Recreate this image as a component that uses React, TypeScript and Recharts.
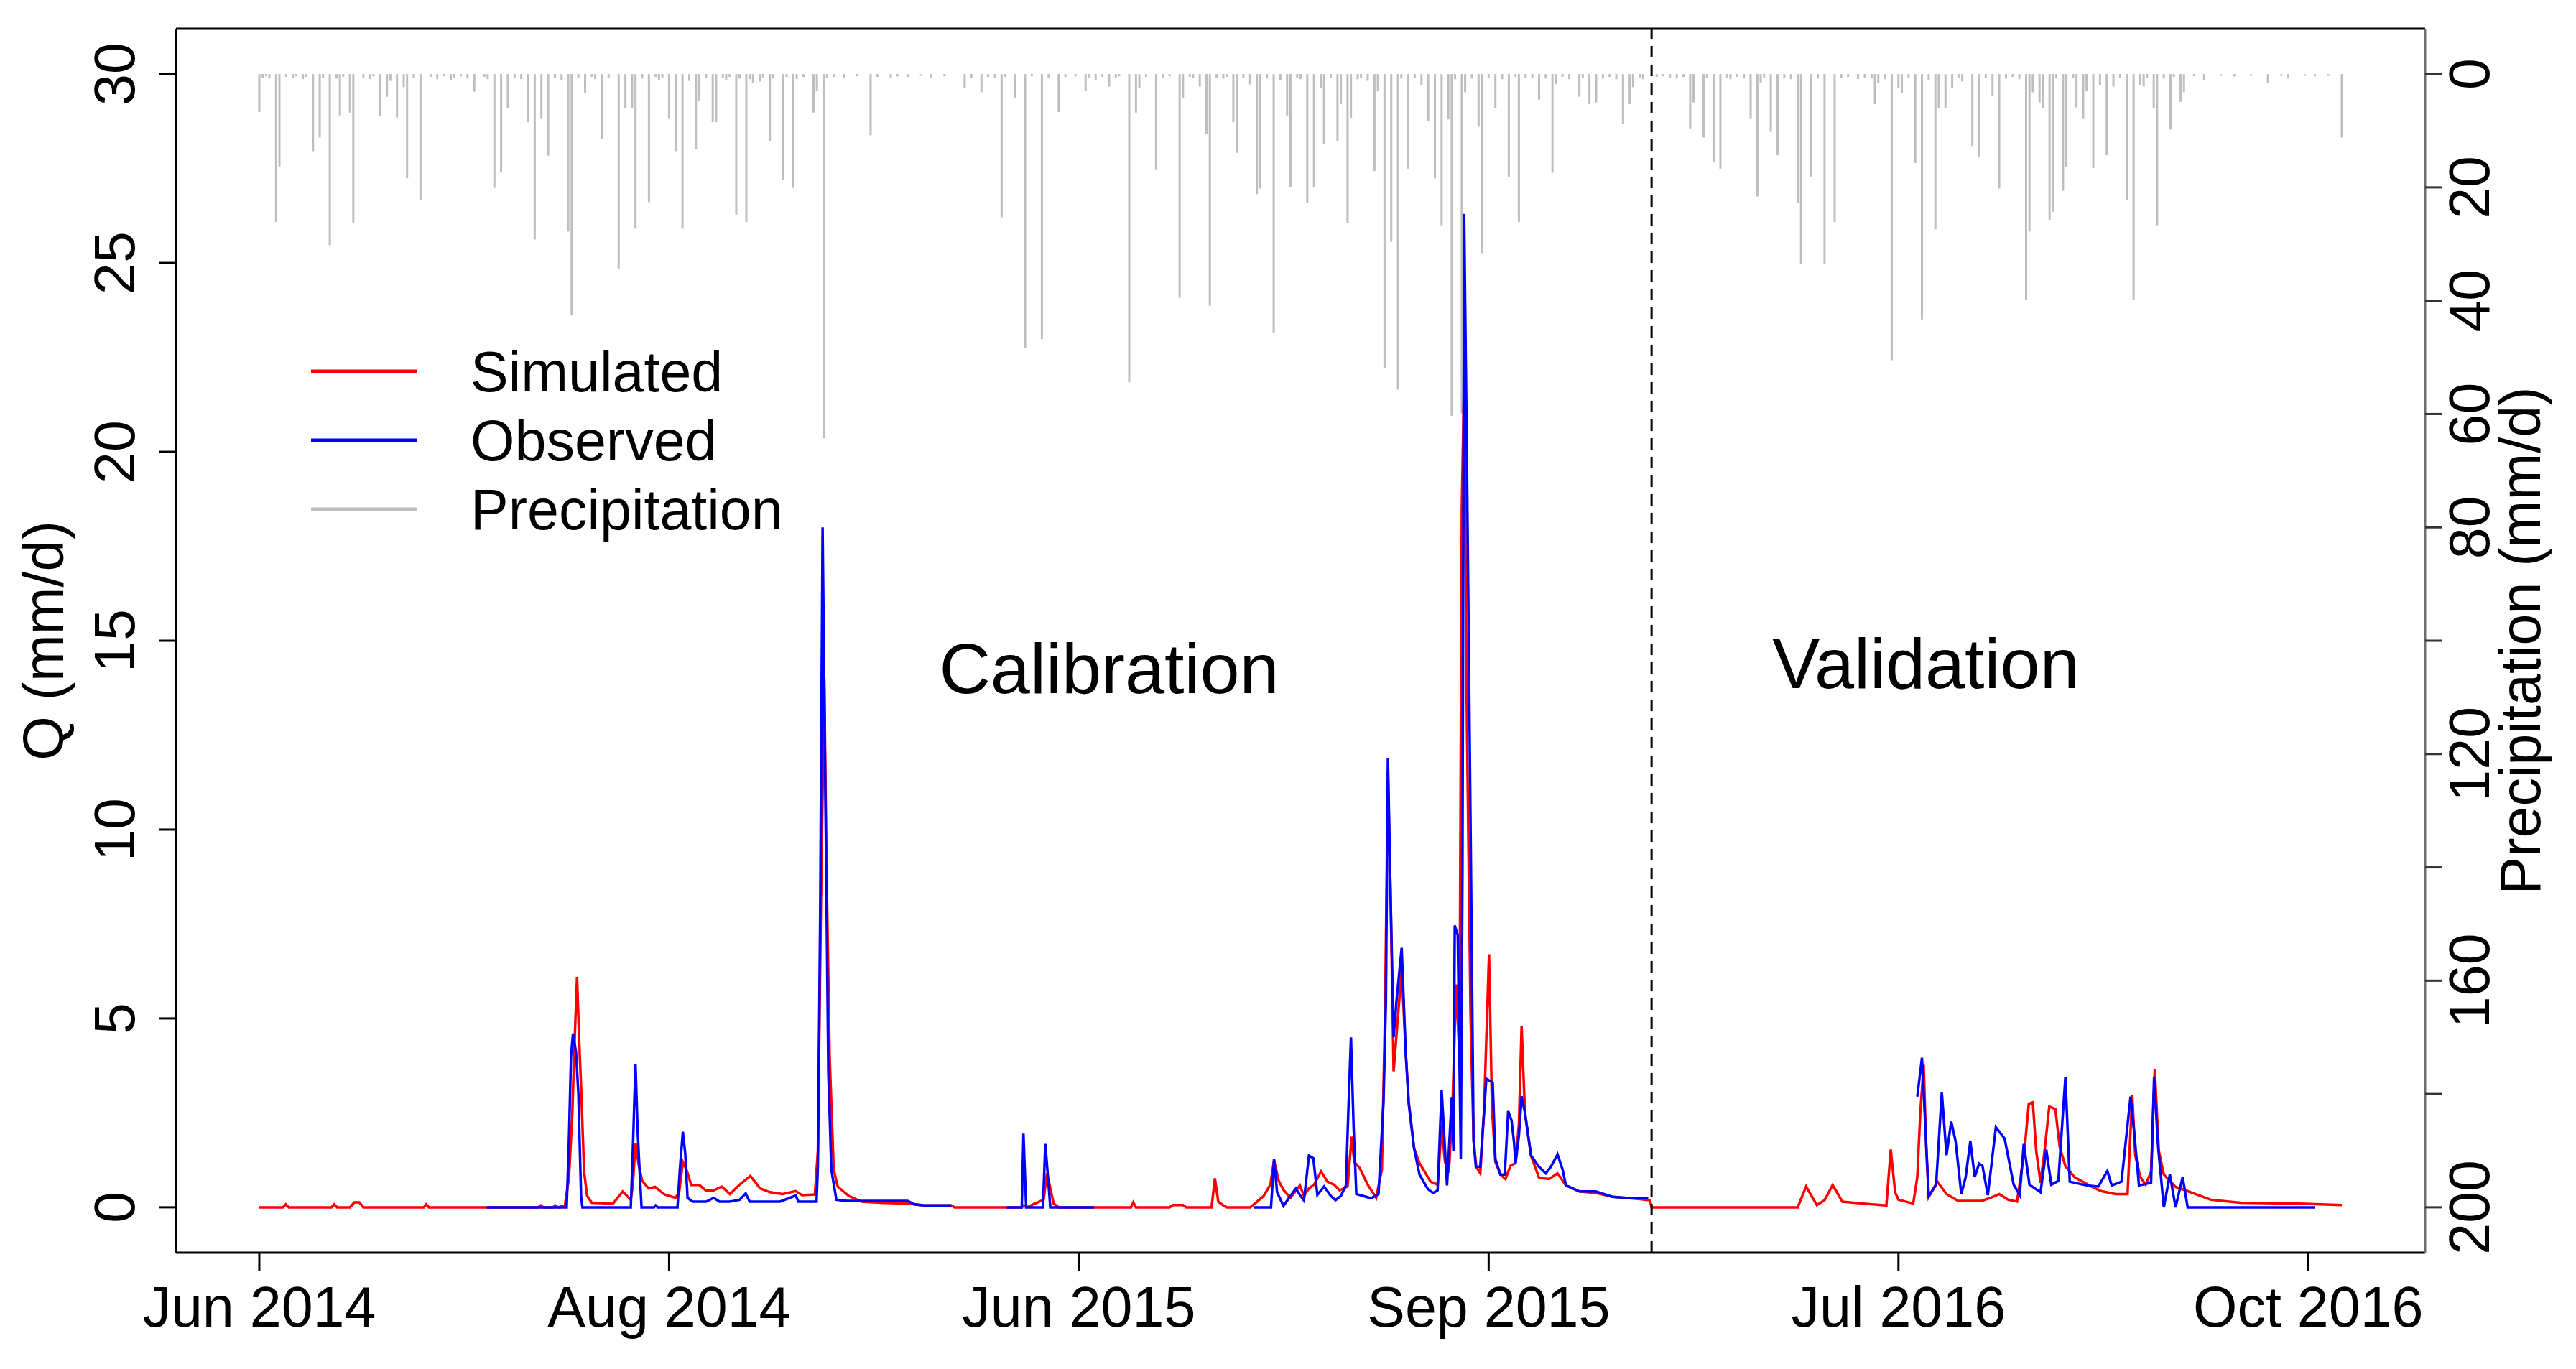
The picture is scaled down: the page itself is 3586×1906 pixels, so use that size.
import React from 'react';
import { ComposedChart, Line, Bar, XAxis, YAxis, ReferenceLine, Legend } from 'recharts';

const W = 3586;
const H = 1906;
const FONT = '"Liberation Sans", Arial, Helvetica, sans-serif';

// x is a running day index over the three concatenated seasons (0..620)
const xTickPos = [0, 122, 244, 366, 488, 610];
const xTickLabels = ['Jun 2014', 'Aug 2014', 'Jun 2015', 'Sep 2015', 'Jul 2016', 'Oct 2016'];
const qTicks = [0, 5, 10, 15, 20, 25, 30];
const pTicks = [0, 20, 40, 60, 80, 100, 120, 140, 160, 180, 200];
const pTickLabelsShown = [0, 20, 40, 60, 80, 120, 160, 200];
const splitDay = 414.5;

// Simulated discharge (mm/d): [day, Q]
const simulated: [number, number][] = [
  [0, 0], [7, 0], [7.9, 0.08], [8.8, 0], [21.5, 0], [22.3, 0.08], [23.2, 0], [27, 0], [28.3, 0.13], [29.8, 0.13], [31, 0],
  [49, 0], [49.7, 0.08], [50.5, 0], [83, 0], [83.8, 0.05], [84.6, 0], [87.5, 0], [88.1, 0.05], [89, 0], [91, 0.05],
  [92.2, 0.8], [93.2, 2.5], [93.7, 4.0], [94.6, 6.1], [95.2, 4.5], [95.8, 3.2], [96.7, 0.94], [97.6, 0.3], [99, 0.12],
  [105.3, 0.1], [108.2, 0.42], [110.6, 0.2], [111.2, 0.6], [112, 1.7], [113, 1.1], [114, 0.7], [115.9, 0.5], [117.8, 0.54],
  [120.6, 0.34], [123.9, 0.25], [125, 0.4], [126.1, 1.2], [127.2, 0.99], [128.6, 0.59], [131, 0.59], [132.9, 0.45],
  [135.3, 0.45], [137.7, 0.55], [140.1, 0.35], [143, 0.6], [146.2, 0.83], [149.1, 0.5], [152, 0.4], [155.8, 0.35],
  [159.7, 0.43], [161.6, 0.32], [165.4, 0.34], [166.3, 1.5], [167.2, 8], [168.2, 14.0], [168.9, 8.8], [169.8, 4.0],
  [171.0, 1.0], [172.2, 0.55], [175.5, 0.3], [179.3, 0.15], [185, 0.12], [193, 0.1], [198, 0.05], [206, 0.05], [207, 0],
  [227, 0], [227.6, 0.05], [228.5, 0], [233.5, 0.2], [234.5, 0.9], [235.5, 0.5], [236.5, 0.1], [238, 0], [259.5, 0],
  [260.2, 0.13], [261, 0], [271, 0], [272, 0.06], [275, 0.06], [276, 0], [283.5, 0], [284.5, 0.77], [285.5, 0.15],
  [287, 0.05], [288, 0], [295, 0], [296.4, 0.1], [299, 0.3], [301, 0.6], [302.1, 1.24], [303.5, 0.7], [305, 0.45],
  [307, 0.25], [309.8, 0.58], [311, 0.3], [312.5, 0.5], [314, 0.6], [316.1, 0.95], [318, 0.68], [320, 0.6], [321.6, 0.45],
  [324, 0.55], [325.2, 1.87], [326, 1.2], [327.6, 1.04], [330, 0.6], [332.5, 0.25], [334.2, 1.0], [335.2, 5.4],
  [336, 11.6], [336.8, 8.25], [337.7, 3.6], [340.1, 6.3], [341.3, 4.1], [342.2, 2.8], [343.8, 1.56], [345.4, 1.17],
  [348.7, 0.68], [350.8, 0.6], [352, 2.15], [353, 1.2], [354.2, 1.0], [355.3, 2.9], [356.3, 5.9], [357.3, 4],
  [358, 18.5], [358.7, 22.0], [359.5, 13], [360.6, 5.1], [361.5, 1.8], [362.3, 1.07], [363.5, 0.9], [364.6, 2.5],
  [365.5, 5], [366.1, 6.7], [367.0, 2.6], [368, 1.2], [369.5, 0.87], [371, 0.75], [372.5, 1.1], [374, 1.17],
  [375, 2.2], [375.8, 4.8], [376.8, 2.5], [378.6, 1.37], [381, 0.78], [384, 0.75], [386.5, 0.9], [389, 0.58],
  [393, 0.42], [397.9, 0.38], [402.8, 0.28], [406.9, 0.25], [414, 0.19], [414.5, 0],
  [458, 0], [460.5, 0.55], [463.7, 0.06], [466, 0.19], [468.4, 0.59], [471.3, 0.15], [477.4, 0.1], [484.4, 0.05],
  [485.7, 1.53], [487, 0.4], [488, 0.2], [492.4, 0.1], [493.6, 0.8], [494.5, 2.5], [495.5, 3.77], [496.3, 1.5],
  [497, 0.27], [499.6, 0.68], [502.3, 0.35], [505.8, 0.17], [512.8, 0.17], [515.4, 0.25], [518, 0.35], [520.7, 0.2],
  [523.3, 0.15], [525.5, 1.5], [526.8, 2.74], [528, 2.78], [529, 1.5], [530.3, 0.65], [531.5, 1.5], [532.9, 2.67],
  [534.7, 2.6], [536, 1.6], [537.7, 1.09], [540.4, 0.8], [544.8, 0.58], [548.3, 0.43], [552.7, 0.35], [556.2, 0.35],
  [557.6, 2.97], [558.5, 1.38], [560, 0.8], [561.6, 0.6], [563.2, 0.94], [564.3, 3.65], [565.5, 1.5], [567, 0.87],
  [570.5, 0.54], [574, 0.43], [581, 0.2], [589.8, 0.12], [607.4, 0.1], [620, 0.06],
];

// Observed discharge (mm/d): [day, Q]; null = no observation
const observed: [number, number | null][] = [
  [67.7, 0], [91.5, 0], [92.1, 1.5], [92.8, 4.0], [93.4, 4.6], [94.3, 4.1], [95, 3.0], [95.8, 0.3], [96.2, 0],
  [110.6, 0], [111.2, 1.5], [112, 3.8], [112.6, 2.1], [113.2, 1.0], [113.8, 0], [117.5, 0], [118, 0.05], [118.6, 0],
  [124.5, 0], [125.2, 1.0], [126.1, 2.0], [126.8, 1.43], [127.5, 0.25], [129, 0.15], [133, 0.15], [135.3, 0.25],
  [137, 0.15], [140, 0.15], [143, 0.2], [144.8, 0.37], [146, 0.15], [150, 0.15], [155, 0.15], [159.7, 0.31],
  [160.5, 0.15], [165.9, 0.15], [166.3, 1.1], [167, 8.0], [167.7, 18.0], [168.4, 12], [169.4, 3.6], [170.3, 1.0],
  [171.8, 0.2], [175, 0.17], [193, 0.17], [195, 0.08], [198, 0.05], [206, 0.05], [206.5, null],
  [222.5, 0], [227, 0], [227.5, 1.95], [228.3, 0], [233.3, 0], [234, 1.68], [234.8, 0.8], [235.5, 0], [248.5, 0],
  [249, null],
  [296, 0], [301.2, 0], [302.1, 1.27], [303, 0.4], [304.9, 0.04], [307, 0.3], [308.6, 0.5], [310, 0.3], [311, 0.18],
  [312.5, 1.37], [313.8, 1.3], [315, 0.33], [317, 0.55], [319, 0.3], [320.4, 0.19], [322, 0.3], [323.5, 0.58],
  [324.2, 2.5], [325, 4.5], [325.8, 2.1], [326.6, 0.35], [331, 0.24], [333.2, 0.35], [334.7, 2.82], [335.4, 5.4],
  [336, 11.9], [336.8, 8.25], [337.7, 4.5], [338.6, 5.5], [340.1, 6.87], [341.3, 4.1], [342.2, 2.74], [343.8, 1.56],
  [345.4, 0.87], [347.9, 0.48], [349.5, 0.38], [350.8, 0.45], [352, 3.1], [353.6, 0.58], [355, 2.9], [355.5, 1.5],
  [355.9, 7.46], [356.8, 7.2], [357.7, 1.27], [358.2, 9.0], [358.7, 26.3], [359.5, 20], [360.6, 10.2], [361.5, 1.76],
  [362.2, 1.07], [363.5, 1.07], [364.6, 2.5], [365.3, 3.4], [367.2, 3.3], [368, 1.27], [369.5, 0.87], [370.8, 0.87],
  [371.8, 2.55], [372.8, 2.3], [373.5, 1.76], [374, 1.17], [375, 1.9], [375.8, 2.94], [376.8, 2.5], [378.6, 1.37],
  [381, 1.07], [383, 0.9], [384.5, 1.07], [386.5, 1.4], [388, 1.0], [389, 0.58], [393, 0.42], [397.9, 0.42],
  [402.8, 0.28], [406.9, 0.25], [413.5, 0.25], [414, null],
  [493.6, 2.93], [495, 3.96], [495.8, 2.5], [497, 0.3], [499.2, 0.6], [500.9, 3.04], [502.3, 1.38], [503.7, 2.27],
  [505, 1.75], [506.7, 0.35], [508, 0.8], [509.4, 1.75], [510.7, 0.8], [512, 1.16], [513, 1.1], [514.6, 0.32],
  [517, 2.12], [519.6, 1.82], [522.3, 0.6], [524.1, 0.32], [525.3, 1.68], [527, 0.6], [530.3, 0.4], [532, 1.53],
  [533.5, 0.6], [535.6, 0.7], [537.7, 3.45], [539, 0.68], [544, 0.58], [547.5, 0.55], [550.2, 0.96], [551.5, 0.58],
  [554.4, 0.68], [557.1, 2.93], [558.2, 1.97], [559.6, 0.58], [563.2, 0.65], [564.1, 3.44], [565.3, 1.6], [567, 0],
  [568.8, 0.87], [570.5, 0], [572.6, 0.8], [574.1, 0], [612, 0],
];

// Daily precipitation (mm/d): [day, P]
const precipitation: [number, number][] = [
  [0, 6.7], [1, 0.6], [2, 0.4], [3, 0.8], [5, 26.1], [6, 16.3], [8, 0.5], [10, 0.7], [11, 0.4], [13, 0.9], [14, 0.5],
  [16, 13.6], [18, 11.2], [19, 0.6], [21, 30.2], [23, 0.8], [24, 7.3], [25, 0.5], [27, 6.8], [28, 26.2], [31, 0.6],
  [33, 0.9], [34, 0.4], [36, 7.4], [38, 4.0], [39, 1.2], [41, 7.7], [43, 2.3], [44, 18.4], [46, 0.7], [48, 22.2],
  [51, 0.5], [53, 0.9], [55, 0.4], [57, 1.1], [58, 0.6], [60, 0.4], [62, 0.8], [64, 3.1], [67, 0.5], [68, 0.9],
  [70, 20.1], [72, 17.4], [74, 6.0], [76, 0.6], [78, 0.9], [80, 8.5], [82, 29.2], [84, 7.8], [86, 14.4], [88, 0.7],
  [90, 1.0], [92, 27.8], [93, 42.6], [95, 0.6], [97, 3.3], [99, 0.5], [100, 0.9], [102, 11.4], [104, 0.6],
  [107, 34.3], [109, 6.0], [111, 6.0], [112, 27.3], [114, 0.8], [116, 22.6], [118, 0.5], [119, 1.0], [120, 0.6],
  [122, 7.8], [124, 13.6], [126, 27.3], [128, 1.2], [130, 13.2], [131, 4.8], [133, 0.7], [135, 8.5], [136, 8.5],
  [138, 0.6], [139, 1.1], [140, 0.5], [142, 24.8], [143, 0.8], [145, 26.1], [146, 0.9], [147, 1.6], [149, 1.3],
  [150, 0.6], [152, 11.8], [153, 0.8], [156, 18.7], [157, 0.5], [159, 20.1], [160, 0.9], [162, 0.5], [165, 6.8],
  [166, 3.0], [168, 64.3], [169, 0.7], [171, 0.5], [174, 0.6], [178, 0.4], [182, 10.8], [184, 0.5], [188, 0.6],
  [190, 0.4], [193, 0.5], [197, 0.3], [200, 0.6], [204, 0.4], [210, 2.5], [212, 0.7], [215, 3.2], [217, 0.5],
  [219, 0.6], [221, 25.3], [222, 0.5], [225, 4.2], [228, 48.3], [230, 0.4], [233, 46.8], [235, 0.6], [238, 6.7],
  [240, 0.5], [243, 0.4], [246, 2.9], [247, 0.6], [249, 1.0], [251, 0.5], [253, 2.2], [255, 0.6], [256, 0.4],
  [259, 54.4], [261, 6.8], [262, 2.5], [264, 0.5], [267, 16.8], [269, 0.6], [271, 0.4], [274, 39.5], [275, 4.3],
  [277, 0.5], [278, 0.7], [280, 2.2], [282, 10.6], [283, 40.9], [285, 0.6], [287, 0.8], [288, 0.5], [290, 8.5],
  [291, 13.9], [293, 0.7], [295, 1.8], [297, 21.2], [298, 20.2], [300, 0.8], [302, 45.6], [304, 1.0], [306, 7.3],
  [307, 19.9], [309, 0.6], [310, 0.9], [312, 22.8], [314, 19.9], [316, 2.5], [317, 12.3], [319, 0.7], [321, 11.8],
  [322, 5.3], [324, 26.3], [325, 7.7], [327, 0.9], [328, 0.6], [330, 1.2], [332, 17.1], [333, 2.9], [335, 51.9],
  [337, 29.6], [339, 55.7], [340, 0.8], [342, 16.7], [344, 0.7], [346, 1.9], [348, 8.3], [350, 18.4], [352, 26.7],
  [354, 8.0], [355, 60.3], [356, 0.9], [358, 59.9], [359, 3.2], [361, 0.8], [363, 9.3], [364, 31.6], [366, 0.6],
  [368, 6.0], [370, 0.9], [372, 18.1], [374, 0.5], [375, 26.1], [377, 0.7], [379, 0.6], [381, 4.5], [383, 0.8],
  [385, 17.4], [386, 1.8], [388, 0.5], [390, 0.9], [393, 4.0], [394, 0.6], [396, 5.3], [398, 5.0], [400, 0.8],
  [402, 0.5], [404, 0.9], [406, 8.8], [408, 5.3], [409, 2.3], [411, 0.6], [412, 0.9], [416, 0.5], [418, 0.4],
  [420, 0.6], [422, 0.8], [424, 0.5], [426, 9.6], [427, 5.0], [430, 11.2], [431, 0.7], [433, 15.6], [435, 16.7],
  [437, 0.6], [438, 0.9], [440, 0.5], [442, 0.8], [444, 7.8], [446, 21.6], [447, 1.5], [448, 0.6], [450, 10.2],
  [452, 14.3], [454, 0.7], [456, 0.9], [458, 22.8], [459, 33.5], [462, 18.1], [464, 0.8], [466, 33.6], [469, 26.1],
  [471, 0.7], [473, 0.5], [476, 0.9], [478, 0.6], [480, 0.8], [481, 5.3], [482, 1.5], [484, 0.9], [486, 50.5],
  [488, 2.5], [489, 3.3], [491, 0.6], [493, 15.7], [495, 43.3], [497, 1.0], [499, 27.4], [500, 6.0], [502, 6.0],
  [504, 2.5], [506, 0.6], [507, 1.3], [510, 12.7], [512, 14.6], [514, 0.7], [516, 3.9], [518, 20.2], [520, 0.8],
  [522, 0.5], [524, 0.9], [526, 39.9], [527, 27.8], [528, 3.2], [530, 5.0], [531, 6.0], [533, 25.7], [534, 24.3],
  [535, 0.8], [537, 20.6], [538, 16.4], [540, 0.6], [541, 5.9], [543, 7.8], [544, 3.0], [546, 16.6], [548, 1.9],
  [550, 14.3], [552, 2.2], [554, 0.7], [556, 22.3], [558, 39.8], [560, 1.9], [561, 2.2], [562, 0.6], [564, 6.0],
  [565, 26.7], [567, 0.8], [569, 9.8], [570, 0.5], [572, 4.9], [573, 3.2], [576, 0.4], [579, 1.0], [584, 0.3],
  [588, 0.4], [593, 0.3], [598, 1.5], [602, 0.3], [604, 0.8], [609, 0.3], [612, 0.4], [616, 0.3], [620, 11.2],
];

const simData = simulated.map(([x, q]) => ({ x, q }));
const obsData = observed.map(([x, q]) => ({ x, q }));
const precipData = precipitation.map(([x, p]) => ({ x, p }));

const TEXT_SIZE = 79;
const PRECIP_COLOR = '#BEBEBE';

const XTick = (props: any) => {
  const { x, y, payload } = props;
  const i = xTickPos.indexOf(payload.value);
  return (
    <text x={x} y={y + 75} textAnchor="middle" fontFamily={FONT} fontSize={TEXT_SIZE} fill="#000">
      {xTickLabels[i]}
    </text>
  );
};

const QTick = (props: any) => {
  const { x, y, payload } = props;
  return (
    <text transform={`translate(${x - 33},${y}) rotate(-90)`} textAnchor="middle" fontFamily={FONT} fontSize={TEXT_SIZE} fill="#000">
      {payload.value}
    </text>
  );
};

const PTick = (props: any) => {
  const { x, y, payload } = props;
  if (!pTickLabelsShown.includes(payload.value)) return <g />;
  return (
    <text transform={`translate(${x + 64},${y}) rotate(-90)`} textAnchor="middle" fontFamily={FONT} fontSize={TEXT_SIZE} fill="#000">
      {payload.value}
    </text>
  );
};

// precipitation drawn as thin hanging lines (R type="h")
const PrecipStick = (props: any) => {
  const { x, y, width, height } = props;
  if (x == null || y == null || !height) return <g />;
  const cx = x + width / 2;
  const top = height < 0 ? y + height : y;
  return <rect x={cx - 1.5} y={top} width={3} height={Math.abs(height)} fill={PRECIP_COLOR} />;
};

const legendItems = [
  { label: 'Simulated', color: '#FF0000' },
  { label: 'Observed', color: '#0000FF' },
  { label: 'Precipitation', color: PRECIP_COLOR },
];

const Overlay = () => (
  <svg width={W} height={H} style={{ position: 'absolute', left: 0, top: 0 }}>
    {legendItems.map((it, i) => (
      <g key={it.label}>
        <line x1={433} x2={581} y1={517 + i * 96} y2={517 + i * 96} stroke={it.color} strokeWidth={5} />
        <text x={655} y={545 + i * 96} fontFamily={FONT} fontSize={TEXT_SIZE} fill="#000">{it.label}</text>
      </g>
    ))}
    <text x={1544} y={965} textAnchor="middle" fontFamily={FONT} fontSize={99} fill="#000">Calibration</text>
    <text x={2681} y={958} textAnchor="middle" fontFamily={FONT} fontSize={99} fill="#000">Validation</text>
    <text transform="translate(88,892) rotate(-90)" textAnchor="middle" fontFamily={FONT} fontSize={TEXT_SIZE} fill="#000">Q (mm/d)</text>
    <text transform="translate(3536,892) rotate(-90)" textAnchor="middle" fontFamily={FONT} fontSize={TEXT_SIZE} fill="#000">Precipitation (mm/d)</text>
  </svg>
);

export default function App() {
  return (
    <div style={{ position: 'absolute', left: 0, top: 0, width: W, height: H, background: '#fff' }}>
      <ComposedChart width={W} height={H} data={precipData} margin={{ top: 40, right: 0, bottom: 0, left: 0 }}>
        <XAxis
          dataKey="x"
          type="number"
          domain={[-24.8, 644.8]}
          allowDataOverflow
          ticks={xTickPos}
          interval={0}
          tick={<XTick />}
          tickSize={26}
          height={162}
          axisLine={{ stroke: '#000', strokeWidth: 3 }}
          tickLine={{ stroke: '#000', strokeWidth: 3 }}
        />
        <YAxis
          yAxisId="q"
          orientation="left"
          width={245}
          type="number"
          domain={[-1.2, 31.2]}
          allowDataOverflow
          ticks={qTicks}
          interval={0}
          tick={<QTick />}
          tickSize={23}
          axisLine={{ stroke: '#000', strokeWidth: 3 }}
          tickLine={{ stroke: '#000', strokeWidth: 3 }}
        />
        <YAxis
          yAxisId="p"
          orientation="right"
          width={210}
          type="number"
          reversed
          domain={[-8, 208]}
          allowDataOverflow
          ticks={pTicks}
          interval={0}
          tick={<PTick />}
          tickSize={23}
          axisLine={{ stroke: '#6e6e6e', strokeWidth: 3 }}
          tickLine={{ stroke: '#333', strokeWidth: 3 }}
        />
        <Bar yAxisId="p" dataKey="p" fill={PRECIP_COLOR} barSize={3} shape={<PrecipStick />} isAnimationActive={false} />
        <Line yAxisId="q" data={simData} dataKey="q" type="linear" stroke="#FF0000" strokeWidth={3.5} dot={false} activeDot={false} isAnimationActive={false} />
        <Line yAxisId="q" data={obsData} dataKey="q" type="linear" stroke="#0000FF" strokeWidth={3.5} dot={false} activeDot={false} isAnimationActive={false} />
        <ReferenceLine yAxisId="q" x={splitDay} stroke="#000" strokeWidth={3} strokeDasharray="16 10" />
        <ReferenceLine yAxisId="q" y={31.2} stroke="#000" strokeWidth={3} />
        <Legend
          verticalAlign="middle"
          align="center"
          layout="horizontal"
          wrapperStyle={{ position: 'absolute', left: 0, top: 0, width: W, height: H, pointerEvents: 'none' }}
          content={() => <Overlay />}
        />
      </ComposedChart>
    </div>
  );
}
